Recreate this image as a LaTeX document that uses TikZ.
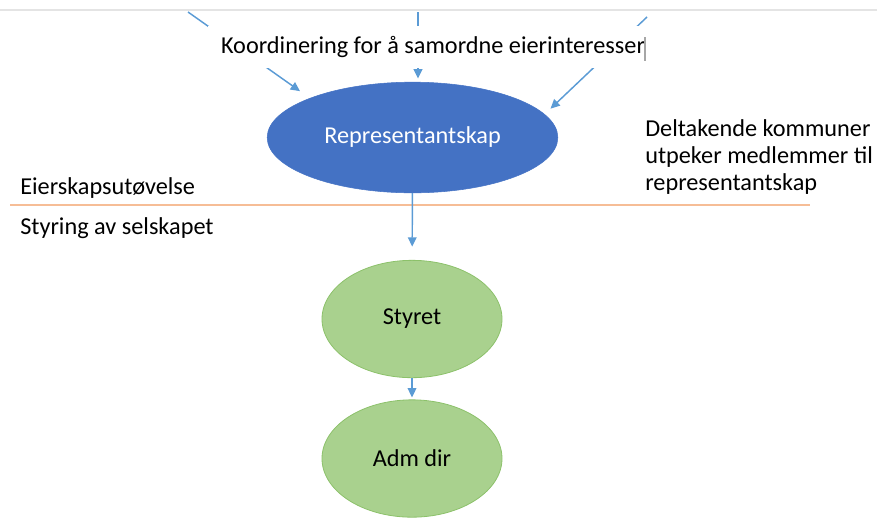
\documentclass[tikz,border=0pt]{standalone}
\usepackage{fontspec}
\setmainfont{Carlito}
\usetikzlibrary{arrows.meta,positioning,shapes.geometric}

\definecolor{repblue}{HTML}{4472C4}
\definecolor{linkblue}{HTML}{5B9BD5}
\definecolor{orgfill}{HTML}{A9D18E}
\definecolor{orgedge}{HTML}{8CC16A}
\definecolor{splitline}{HTML}{F4B183}
\definecolor{topgray}{HTML}{E4E4E4}

\begin{document}
\begin{tikzpicture}[
  x=0.75pt, y=-0.75pt,
  font=\fontsize{18.2}{20.3}\selectfont,
  conn/.style={draw=linkblue, line width=1.1pt, -{Triangle[length=7pt,width=6.5pt]}},
  repbox/.style={ellipse, fill=repblue, draw=repblue, text=white,
                 minimum width=218pt, minimum height=83pt, inner sep=0pt},
  orgbox/.style={ellipse, fill=orgfill, draw=orgedge, line width=0.6pt,
                 minimum width=135pt, minimum height=88pt, inner sep=0pt},
  lbl/.style={anchor=west, inner sep=0pt, align=left}
]
\useasboundingbox (0,0) rectangle (877,519);

% ---- top edge of the page
\draw[topgray, line width=1.5pt] (0,9.5) -- (877,9.5);

% ---- owners' body
\node[repbox] (rep) at (412.5,137.5) {Representantskap};

% ---- incoming lines from above
\coordinate (kl) at (188,12);
\coordinate (kc) at (418,12);
\coordinate (kr) at (647,17);
\draw[conn, shorten >=9pt] (kl) -- (rep.159);
\draw[conn, shorten >=2.5pt] (kc) -- (kc |- rep.north);
\draw[conn, shorten >=6pt] (kr) -- (rep.10);

\node[fill=white, minimum width=337pt, minimum height=32pt, inner sep=0pt]
  (koord) at (433,47) {Koordinering for å samordne eierinteresser};
\draw[gray!70, line width=1pt] (645,37) -- (645,61);

\node[lbl] (delt) at (645,157)
  {Deltakende kommuner\\utpeker medlemmer til\\representantskap};

% ---- split between ownership and management
\node[lbl] (eier) at (20,188) {Eierskapsutøvelse};
\draw[splitline!85, line width=1pt] (10,205) -- (810,205);
\node[lbl] (styr) at (20,228) {Styring av selskapet};

% ---- company bodies
\node[orgbox] (styret) at (412,319) {Styret};
\node[orgbox] (adm) at (412,458.5) {Adm dir};

\draw[conn, shorten >=10pt] (rep) -- (styret);
\draw[conn, shorten >=1.5pt] (styret) -- (adm);
\end{tikzpicture}
\end{document}
